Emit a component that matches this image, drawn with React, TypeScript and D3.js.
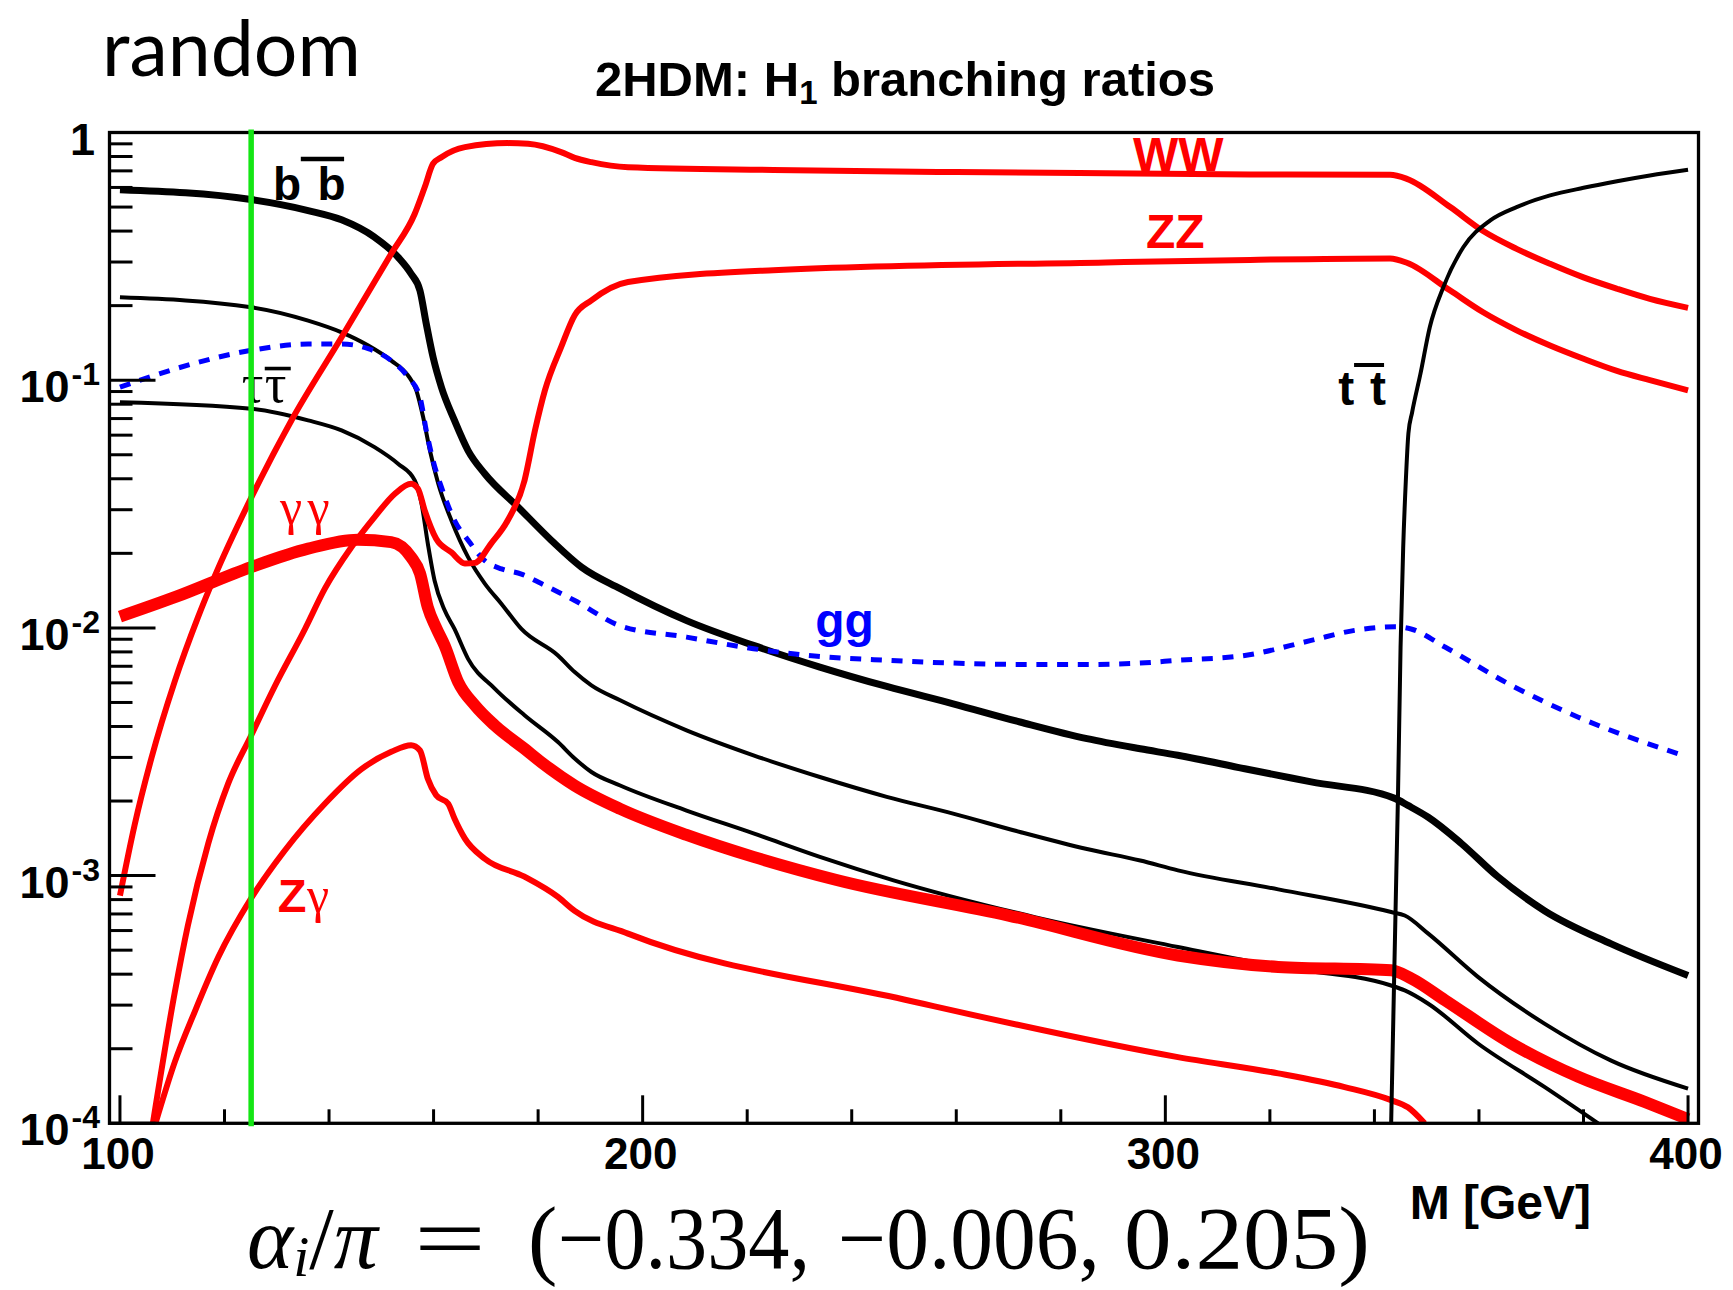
import React from "react";
import * as d3 from "d3";

type Pt = [number, number];

// Axis set-up
const massDomain: [number, number] = [98, 402];
const brDomain: [number, number] = [1e-4, 1];
const majorMassTicks = [100, 200, 300, 400];
const minorMassTicks = [120, 140, 160, 180, 220, 240, 260, 280, 320, 340, 360, 380];
const decadeExponents = [0, -1, -2, -3, -4];
const minorMultipliers = [2, 3, 4, 5, 6, 7, 8, 9];
const higgsMass = 125.1;

// Branching ratios of H1 versus its mass M [GeV]
const bbBar: Pt[] = [
  [100, 0.587], [125.1, 0.536], [136, 0.484], [142.4, 0.444], [148.7, 0.378], [153.2, 0.314],
  [155.7, 0.269], [157.4, 0.23], [158.6, 0.169], [159.9, 0.124], [161.5, 0.0937], [164, 0.0688],
  [166.6, 0.052], [169.8, 0.0419], [176.2, 0.0307], [182.5, 0.0226], [188.3, 0.0176], [195.7, 0.0144],
  [208.4, 0.0107], [221.2, 0.0085], [233.9, 0.00695], [246.7, 0.0058], [259.4, 0.00494], [272.2, 0.00417],
  [285, 0.00357], [295.2, 0.00325], [302.4, 0.00306], [315.2, 0.0027], [327.9, 0.00239], [343.9, 0.00205],
  [346.4, 0.00192], [350.3, 0.00172], [356.6, 0.00135], [363.6, 0.00099], [372.6, 0.00072],
  [385.3, 0.00053], [400, 0.000395],
];

const ccBar: Pt[] = [
  [100, 0.216], [125.1, 0.197], [136, 0.174], [142.4, 0.156], [147.5, 0.138], [151.9, 0.12],
  [155.1, 0.1045], [156.7, 0.091], [158, 0.071], [159.3, 0.052], [160.9, 0.0382], [163.4, 0.0272],
  [166.6, 0.0193], [169.8, 0.0151], [173, 0.0125], [176.8, 0.0099], [183.8, 0.00774], [187, 0.00663],
  [190.2, 0.00586], [195.7, 0.0051], [208.4, 0.00386], [221.2, 0.00306], [233.9, 0.0025], [246.7, 0.00208],
  [259.4, 0.00178], [272.2, 0.0015], [285, 0.00128], [295.2, 0.00115], [302.4, 0.00105], [321.6, 0.00088],
  [343.2, 0.000713], [345.8, 0.00069], [350.3, 0.000583], [359.8, 0.00039], [372.6, 0.000252],
  [385.3, 0.000179], [400, 0.000138],
];

const tauTau: Pt[] = [
  [100, 0.0815], [125.1, 0.0767], [136, 0.0688], [142.4, 0.0627], [148.7, 0.0537], [153.2, 0.046],
  [156.4, 0.0394], [157.7, 0.0317], [158.9, 0.0219], [160.2, 0.0155], [162.1, 0.0118], [164, 0.0099],
  [166.6, 0.0075], [171.7, 0.00569], [177.4, 0.00444], [183.8, 0.00346], [187, 0.00297], [190.2, 0.00262],
  [195.7, 0.00231], [208.4, 0.00183], [221.2, 0.00148], [233.9, 0.00119], [248, 0.000957], [275, 0.00068],
  [302.4, 0.000515], [321.6, 0.000428], [343.2, 0.00036], [345.8, 0.000344], [350.3, 0.000304],
  [359.8, 0.00021], [372.6, 0.00014], [382.8, 0.0001],
];

const gluonGluon: Pt[] = [
  [100, 0.0937], [110.5, 0.111], [125.1, 0.132], [136, 0.14], [142.4, 0.14], [147.5, 0.134],
  [151.9, 0.12], [155.1, 0.103], [157.4, 0.0855], [158.6, 0.0627], [159.9, 0.0474], [161.5, 0.037],
  [164, 0.0272], [166.6, 0.0226], [169.8, 0.0187], [173, 0.0173], [176.8, 0.0165], [180.6, 0.0151],
  [187, 0.0129], [195.7, 0.0102], [208.4, 0.00918], [221.2, 0.00824], [233.9, 0.00767], [246.7, 0.0074],
  [259.4, 0.00721], [272.2, 0.00712], [285, 0.00712], [295.2, 0.00721], [302.4, 0.0074], [315.2, 0.00774],
  [327.9, 0.0089], [336.2, 0.00977], [343.9, 0.0101], [347, 0.0099], [353.5, 0.00837], [366.2, 0.00586],
  [379, 0.00436], [398.1, 0.0031],
];

const wWBoson: Pt[] = [
  [100, 0.00083], [102.8, 0.0016], [106, 0.00297], [110.5, 0.0061], [114.9, 0.011], [118.1, 0.0161],
  [125.1, 0.0335], [132.8, 0.0688], [142.4, 0.149], [151.9, 0.324], [156.4, 0.47], [158.3, 0.601],
  [159.9, 0.748], [161.5, 0.795], [166, 0.873], [174.2, 0.906], [178.1, 0.9], [184.4, 0.833],
  [187, 0.79], [190.2, 0.759], [197.2, 0.724], [225, 0.706], [260, 0.692], [288.6, 0.685],
  [316.2, 0.677], [343, 0.675], [346.2, 0.65], [354.5, 0.5], [360.8, 0.4], [367.2, 0.339],
  [373.6, 0.295], [380, 0.26], [386.4, 0.234], [392.7, 0.213], [400, 0.196],
];

const zZBoson: Pt[] = [
  [106.3, 0.0001], [110.5, 0.000339], [113, 0.00063], [116.9, 0.00135], [120.7, 0.00235], [125.1, 0.00368],
  [129.6, 0.0058], [135.4, 0.0099], [139.2, 0.0144], [144.3, 0.0212], [148.7, 0.028], [152.6, 0.0348],
  [155.7, 0.0382], [157, 0.0365], [158.3, 0.0298], [160.5, 0.0229], [163.4, 0.0202], [166, 0.0182],
  [167.9, 0.0183], [171, 0.0219], [174.2, 0.0272], [177.4, 0.0394], [179.4, 0.0627], [181.3, 0.091],
  [184.4, 0.136], [187, 0.183], [190.2, 0.21], [197.2, 0.249], [225, 0.278], [288.6, 0.299],
  [316.2, 0.306], [343, 0.31], [346.2, 0.298], [354.5, 0.23], [360.8, 0.188], [367.2, 0.159],
  [373.6, 0.138], [380, 0.122], [386.4, 0.109], [392.7, 0.1], [400, 0.091],
];

const gammaGamma: Pt[] = [
  [100, 0.0111], [110.5, 0.0133], [125.1, 0.0176], [136, 0.0209], [145.5, 0.0227], [151.9, 0.0222],
  [155.7, 0.0193], [157.4, 0.0166], [158.9, 0.0121], [160.5, 0.01], [162.1, 0.0085], [164.7, 0.00605],
  [167.9, 0.00487], [171.7, 0.00404], [177.4, 0.00325], [180.6, 0.00287], [187, 0.00231], [195.7, 0.00186],
  [208.4, 0.00146], [221.2, 0.00119], [237.1, 0.00096], [270, 0.00069], [302.4, 0.000476],
  [321.6, 0.000428], [343.2, 0.000415], [347.1, 0.000384], [353.5, 0.000314], [366.2, 0.00021],
  [379, 0.000154], [391.7, 0.000122], [400, 0.000104],
];

const zGamma: Pt[] = [
  [106.8, 0.0001], [110.5, 0.000177], [114.3, 0.000282], [118.8, 0.000468], [125.1, 0.00081],
  [131.5, 0.00126], [139.2, 0.00195], [146.2, 0.00269], [151.9, 0.00316], [155.7, 0.00336],
  [157.4, 0.0032], [158.9, 0.00246], [160.5, 0.00211], [162.8, 0.00195], [164, 0.0017], [166, 0.00141],
  [169.8, 0.00117], [177.4, 0.00099], [183.8, 0.00082], [187, 0.00072], [197.2, 0.000583],
  [250, 0.000316], [302.4, 0.000185], [321.6, 0.000159], [334.3, 0.00014], [343.2, 0.000124],
  [346.4, 0.000116], [349.6, 0.0001],
];

const tTop: Pt[] = [
  [343.2, 0.0001], [344.2, 0.00105], [344.5, 0.00207], [345, 0.00837], [345.5, 0.021], [346, 0.039],
  [346.5, 0.061], [347.2, 0.074], [348.8, 0.106], [350.6, 0.164], [353.2, 0.238], [357, 0.344],
  [362.1, 0.441], [367.2, 0.5], [373.6, 0.557], [380, 0.598], [386.4, 0.636], [392.7, 0.671],
  [400, 0.707],
];

const SANS = "'Liberation Sans', Arial, Helvetica, sans-serif";
const SERIF = "'Liberation Serif', 'Times New Roman', serif";
const RED = "#ff0000";
const BLUE = "#0000ff";
const GREEN = "#14e614";

export default function App() {
  const frame = { left: 109.5, right: 1698.5, top: 132.5, bottom: 1123.3 };
  const x = d3.scaleLinear().domain(massDomain).range([frame.left, frame.right]);
  const y = d3.scaleLog().domain(brDomain).range([frame.bottom, frame.top]);
  const line = d3
    .line<Pt>()
    .x((d) => x(d[0]))
    .y((d) => y(d[1]))
    .curve(d3.curveMonotoneX);

  const yMinor: number[] = [];
  decadeExponents.slice(1).forEach((e) => {
    minorMultipliers.forEach((m) => yMinor.push(m * Math.pow(10, e)));
  });

  const curve = (data: Pt[], color: string, width: number, dash?: string) => (
    <path
      d={line(data) || ""}
      fill="none"
      stroke={color}
      strokeWidth={width}
      strokeDasharray={dash}
      strokeLinejoin="round"
      clipPath="url(#plotArea)"
    />
  );

  // label anchors (data coordinates)
  const bbX = x(129.3), bbY = y(0.534);
  const tauX = x(123.3), tauY = y(0.082);
  const ttX = x(333.1), ttY = y(0.0794);
  const ggX = x(233), ggY = y(0.00923);
  const gamX = x(130.6), gamY = y(0.02626);
  const zgX = x(130.2), zgY = y(0.000715);
  const wwX = x(293.8), wwY = y(0.698);
  const zzX = x(296.3), zzY = y(0.342);

  return (
    <svg
      width={1733}
      height={1290}
      style={{ position: "absolute", left: 0, top: 0, display: "block" }}
    >
      <rect x={0} y={0} width={1733} height={1290} fill="#ffffff" />
      <defs>
        <clipPath id="plotArea">
          <rect
            x={frame.left}
            y={frame.top}
            width={frame.right - frame.left}
            height={frame.bottom - frame.top}
          />
        </clipPath>
      </defs>

      {/* corner tag and title */}
      <text x={102} y={76} fontFamily="Lato, 'Open Sans', sans-serif" fontSize={77} fill="#000">
        random
      </text>
      <text x={905} y={96} textAnchor="middle" fontFamily={SANS} fontWeight="bold" fontSize={49} fill="#000">
        2HDM: H<tspan fontSize={33} dy={8}>1</tspan>
        <tspan dy={-8}> branching ratios</tspan>
      </text>

      {/* curves */}
      {curve(ccBar, "#000", 4)}
      {curve(tauTau, "#000", 4)}
      {curve(bbBar, "#000", 7)}
      {curve(gluonGluon, BLUE, 5, "11 9.7")}
      {curve(zGamma, RED, 6)}
      {curve(zZBoson, RED, 6)}
      {curve(wWBoson, RED, 6)}
      {curve(gammaGamma, RED, 12)}
      {curve(tTop, "#000", 4)}

      {/* frame */}
      <rect
        x={frame.left}
        y={frame.top}
        width={frame.right - frame.left}
        height={frame.bottom - frame.top}
        fill="none"
        stroke="#000"
        strokeWidth={3.3}
      />

      {/* y axis ticks */}
      {decadeExponents.map((e) => (
        <line key={"yM" + e} x1={frame.left} x2={frame.left + 46} y1={y(Math.pow(10, e))} y2={y(Math.pow(10, e))} stroke="#000" strokeWidth={3} />
      ))}
      {yMinor.map((v, i) => (
        <line key={"ym" + i} x1={frame.left} x2={frame.left + 23} y1={y(v)} y2={y(v)} stroke="#000" strokeWidth={3} />
      ))}
      {decadeExponents.map((e) =>
        e === 0 ? (
          <text key={"yl" + e} x={95} y={y(1) + 22} textAnchor="end" fontFamily={SANS} fontWeight="bold" fontSize={45} fill="#000">
            1
          </text>
        ) : (
          <text key={"yl" + e} x={100} y={y(Math.pow(10, e)) + 22} textAnchor="end" fontFamily={SANS} fontWeight="bold" fontSize={45} fill="#000">
            10
            <tspan fontSize={32} dx={2} dy={-17}>
              {String(e)}
            </tspan>
          </text>
        )
      )}

      {/* x axis ticks */}
      {majorMassTicks.map((v) => (
        <line key={"xM" + v} x1={x(v)} x2={x(v)} y1={frame.bottom} y2={frame.bottom - 28} stroke="#000" strokeWidth={3} />
      ))}
      {minorMassTicks.map((v) => (
        <line key={"xm" + v} x1={x(v)} x2={x(v)} y1={frame.bottom} y2={frame.bottom - 14} stroke="#000" strokeWidth={3} />
      ))}
      {majorMassTicks.map((v) => (
        <text key={"xl" + v} x={x(v) - 2} y={1169} textAnchor="middle" fontFamily={SANS} fontWeight="bold" fontSize={44} fill="#000">
          {v}
        </text>
      ))}
      <text x={1591} y={1219} textAnchor="end" fontFamily={SANS} fontWeight="bold" fontSize={48} fill="#000">
        M [GeV]
      </text>

      {/* channel labels */}
      <text x={bbX} y={bbY} fontFamily={SANS} fontWeight="bold" fontSize={46} fill="#000">b</text>
      <text x={bbX + 44.3} y={bbY} fontFamily={SANS} fontWeight="bold" fontSize={46} fill="#000">b</text>
      <line x1={bbX + 27.7} x2={bbX + 71} y1={bbY - 41} y2={bbY - 41} stroke="#000" strokeWidth={4.6} />

      <text x={tauX} y={tauY} fontFamily={SERIF} fontSize={54} fill="#000">τ</text>
      <text x={tauX + 23} y={tauY} fontFamily={SERIF} fontSize={54} fill="#000">τ</text>
      <line x1={tauX + 23} x2={tauX + 49} y1={tauY - 33} y2={tauY - 33} stroke="#000" strokeWidth={3.6} />

      <text x={ttX} y={ttY} fontFamily={SANS} fontWeight="bold" fontSize={48} fill="#000">t</text>
      <text x={ttX + 31.7} y={ttY} fontFamily={SANS} fontWeight="bold" fontSize={48} fill="#000">t</text>
      <line x1={ttX + 15.7} x2={ttX + 45.7} y1={ttY - 40} y2={ttY - 40} stroke="#000" strokeWidth={4} />

      <text x={ggX} y={ggY} fontFamily={SANS} fontWeight="bold" fontSize={48} fill={BLUE}>gg</text>

      <text x={gamX} y={gamY} fontFamily={SERIF} fontSize={50} fill={RED}>γ</text>
      <text x={gamX + 27.6} y={gamY} fontFamily={SERIF} fontSize={50} fill={RED}>γ</text>

      <text x={zgX} y={zgY} fontFamily={SANS} fontWeight="bold" fontSize={47} fill={RED}>Z</text>
      <text x={zgX + 29.3} y={zgY} fontFamily={SERIF} fontSize={50} fill={RED}>γ</text>

      <text x={wwX} y={wwY} fontFamily={SANS} fontWeight="bold" fontSize={48} fill={RED}>WW</text>
      <text x={zzX} y={zzY} fontFamily={SANS} fontWeight="bold" fontSize={48} fill={RED}>ZZ</text>

      {/* observed-mass marker */}
      <line x1={x(higgsMass)} x2={x(higgsMass)} y1={frame.top - 3} y2={frame.bottom + 3} stroke={GREEN} strokeWidth={5.5} />

      {/* mixing angles */}
      <g fontFamily={SERIF} fontSize={88} fill="#000">
        <text x={247} y={1268}>
          <tspan fontStyle="italic">α</tspan>
          <tspan fontStyle="italic" fontSize={58} dy={8}>i</tspan>
          <tspan dy={-8}>/</tspan>
          <tspan fontStyle="italic">π</tspan>
        </text>
        <text x={414} y={1268} textLength={72} lengthAdjust="spacingAndGlyphs">=</text>
        <text x={528} y={1268}>(</text>
        <text x={558} y={1268} textLength={252} lengthAdjust="spacingAndGlyphs">−0.334,</text>
        <text x={838} y={1268} textLength={262} lengthAdjust="spacingAndGlyphs">−0.006,</text>
        <text x={1124} y={1268} textLength={246} lengthAdjust="spacingAndGlyphs">0.205)</text>
      </g>
    </svg>
  );
}
